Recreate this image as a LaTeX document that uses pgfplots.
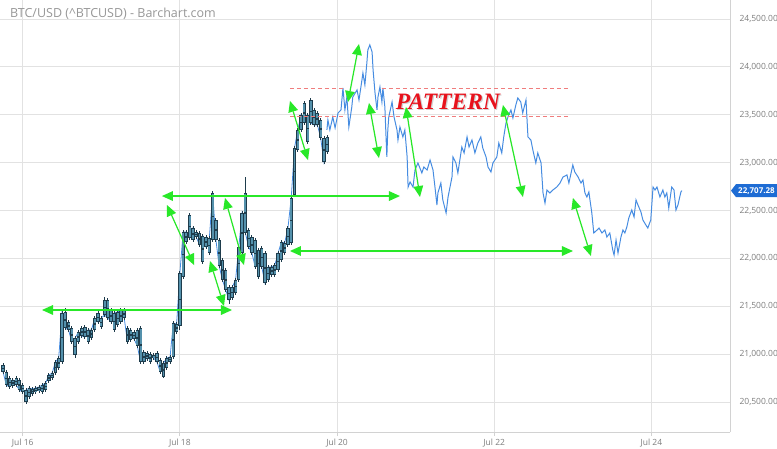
\documentclass[border=0pt]{standalone}
\usepackage{pgfplots}
\pgfplotsset{compat=1.18}
\usepackage{pgfplotstable}
\usepackage{fontspec}
\setmainfont{Open Sans}
\newfontfamily\patfont{Liberation Serif}
\usetikzlibrary{arrows.meta}
\definecolor{candlefill}{RGB}{84,145,172}
\definecolor{candleedge}{RGB}{30,60,76}
\definecolor{linecol}{RGB}{70,140,225}
\definecolor{gridcol}{RGB}{226,226,226}
\definecolor{axcol}{RGB}{210,210,210}
\definecolor{labcol}{RGB}{125,125,125}
\definecolor{titlecol}{RGB}{150,150,150}
\definecolor{arrgreen}{RGB}{40,232,40}
\definecolor{dashred}{RGB}{240,125,125}
\definecolor{patred}{RGB}{232,18,28}
\definecolor{tagblue}{RGB}{30,108,212}
\tikzset{
  garrow/.style={draw=arrgreen, fill=arrgreen, line width=1.2pt,
    {Triangle[length=11pt,width=10pt,line width=0pt]}-{Triangle[length=11pt,width=10pt,line width=0pt]}},
  gshadow/.style={draw=none, fill=black!40, opacity=0.18, line width=0.1pt, xshift=1pt, yshift=-1.3pt,
    {Triangle[length=11pt,width=10pt,fill=black!40]}-{Triangle[length=11pt,width=10pt,fill=black!40]}},
  rdash/.style={draw=dashred, line width=0.9pt, dash pattern=on 4pt off 3pt}
}
\newcommand{\garr}[2]{\draw[gshadow] #1 -- #2; \draw[garrow] #1 -- #2;}

\pgfplotstableread{
hr o h l c
-6 20886 20907 20792 20813
-5 20813 20834 20657 20678
-4 20751 20772 20636 20657
-3 20667 20751 20646 20730
-2 20751 20772 20657 20678
-1 20730 20751 20604 20625
0 20678 20698 20584 20604
1 20500 20646 20479 20625
2 20552 20667 20531 20646
3 20584 20657 20563 20636
4 20604 20667 20584 20646
5 20615 20678 20594 20657
6 20604 20698 20584 20678
7 20625 20719 20604 20698
8 20719 20803 20698 20782
9 20751 20824 20730 20803
10 20803 20939 20782 20918
11 20855 20980 20834 20960
12 20918 21461 20897 21430
13 21440 21482 21252 21273
14 21336 21357 21231 21252
15 21273 21294 21106 21127
16 20991 21189 20960 21168
17 21127 21252 21106 21231
18 21273 21294 21169 21190
19 21283 21304 21158 21179
20 21127 21273 21106 21252
21 21168 21273 21148 21252
22 21252 21398 21231 21377
23 21430 21451 21315 21336
24 21283 21398 21262 21377
25 21565 21597 21388 21409
26 21565 21586 21357 21377
27 21461 21482 21315 21336
28 21252 21451 21231 21430
29 21304 21461 21283 21440
30 21336 21482 21315 21461
31 21461 21482 21357 21377
32 21273 21294 21106 21127
33 21148 21273 21127 21252
34 21231 21252 21137 21158
35 21252 21273 21064 21085
36 21273 21294 20897 20918
37 20918 21043 20897 21022
38 21012 21033 20928 20949
39 20918 21022 20897 21001
40 20991 21012 20939 20960
41 21012 21033 20897 20918
42 20939 20960 20792 20813
43 20761 20928 20751 20907
44 20855 20980 20834 20960
45 20918 20991 20897 20970
46 20970 21346 20949 21325
47 21231 21336 21210 21315
48 21294 21868 21252 21847
49 21806 22296 21785 22275
50 22171 22296 22150 22275
51 22453 22474 22192 22213
52 22192 22338 22171 22317
53 22275 22296 22202 22223
54 22265 22286 22119 22140
55 21962 22255 21941 22234
56 22223 22244 22098 22119
57 22056 22234 22035 22213
58 22192 22704 22171 22683
59 22401 22422 22171 22192
60 22192 22213 21899 21920
61 21983 22004 21753 21774
62 21879 21900 21649 21670
63 21701 21722 21524 21565
64 21586 21722 21565 21701
65 21638 21795 21617 21774
66 21774 22140 21753 22119
67 22056 22495 22035 22474
68 22683 22850 22244 22265
69 22296 22317 22098 22119
70 22223 22244 22035 22056
71 22192 22213 21889 21910
72 21806 22108 21785 22087
73 22108 22129 21889 21910
74 22056 22077 21722 21743
75 21774 21931 21753 21910
76 21826 21931 21805 21910
77 21826 21952 21805 21931
78 21879 22077 21858 22056
79 21983 22192 21962 22171
80 22056 22182 22035 22161
81 22140 22338 22119 22317
82 22161 22652 22140 22631
83 22662 23174 22641 23153
84 23132 23362 23111 23341
85 23341 23518 23320 23497
86 23623 23644 23393 23414
87 23215 23518 23194 23497
88 23654 23675 23393 23414
89 23550 23571 23372 23393
90 23518 23539 23372 23393
91 23445 23466 23236 23257
92 23257 23278 22986 23007
93 23111 23289 23090 23268
}\candles

\pgfplotstableread{
hr p
92.9 23341
93.2 23445
93.8 23341
94.7 23477
95.4 23362
96.3 23518
97.2 23550
97.8 23779
98.4 23550
99.0 23685
99.6 23372
100.5 23581
100.8 23685
102.1 23759
102.7 23654
103.6 23863
103.9 23936
104.5 23811
105.1 24041
105.4 24176
106.0 24229
106.7 24155
107.0 23967
107.6 23727
108.2 23550
108.5 23685
109.1 23790
109.7 23633
110.0 23779
110.6 23581
111.2 23059
111.5 23341
111.8 23477
112.8 23633
113.4 23477
114.3 23341
114.6 23236
115.2 23372
116.1 23268
116.7 23341
117.4 23059
117.7 22745
118.3 22798
119.2 22745
119.8 22923
120.7 22996
121.9 22892
122.5 22954
123.5 22923
124.4 23027
125.3 22923
125.9 22745
126.5 22557
126.8 22683
127.7 22787
128.3 22610
129.3 22474
129.9 22641
131.1 22850
131.4 23059
132.3 22996
132.9 22892
134.1 23163
134.8 23101
135.7 23268
136.3 23163
137.2 23236
138.1 23101
139.0 23205
139.9 23268
140.5 23153
141.5 23059
142.1 22954
143.0 22902
143.6 22996
144.8 23059
145.4 23205
146.3 23101
146.9 23268
147.6 23414
148.2 23477
149.1 23550
149.7 23466
150.6 23602
151.2 23675
152.1 23633
152.7 23518
153.7 23654
154.3 23268
155.2 23236
155.8 23132
156.7 22996
157.3 23101
158.3 22996
158.9 22683
159.5 22578
160.1 22714
161.0 22683
161.9 22714
163.1 22745
164.1 22787
165.0 22850
166.2 22871
166.8 22787
168.0 22975
168.6 22902
169.6 22850
170.5 22787
171.1 22819
171.7 22683
172.3 22641
172.9 22693
173.8 22474
174.4 22265
175.4 22296
176.0 22317
176.9 22265
177.8 22296
178.4 22223
179.3 22265
180.2 22087
180.6 22035
181.2 22192
181.8 22056
182.7 22223
183.3 22296
183.9 22265
184.5 22328
185.1 22422
186.0 22505
186.7 22432
187.3 22610
187.9 22557
188.8 22484
189.4 22401
190.3 22349
190.9 22317
191.8 22401
192.5 22745
193.1 22714
193.7 22745
194.6 22641
195.5 22714
196.1 22641
196.7 22683
197.3 22526
198.2 22745
198.9 22714
199.5 22505
200.1 22557
201.0 22693
201.3 22707.28
}\priceline

\begin{document}
\begin{tikzpicture}
\begin{axis}[
  at={(0,0)}, anchor=north west,
  scale only axis, width=730pt, height=432pt,
  xmin=15.711, xmax=25.0, ymin=20187, ymax=24698,
  axis x line*=bottom, axis y line*=right,
  axis line style={draw=axcol, line width=0.8pt},
  grid=major, grid style={draw=gridcol, line width=0.8pt},
  xtick={16,18,20,22,24},
  xticklabels={Jul 16,Jul 18,Jul 20,Jul 22,Jul 24},
  ytick={20500,21000,21500,22000,22500,23000,23500,24000,24500},
  scaled y ticks=false,
  /pgf/number format/assume math mode=true,
  yticklabel style={/pgf/number format/.cd, fixed, fixed zerofill, precision=2, 1000 sep={,}},
  ticklabel style={font=\fontsize{8.5}{10}\selectfont, text=labcol},
  xtick style={draw=axcol, line width=0.8pt},
  tick align=outside, major tick length=4pt,
  ytick style={draw=none},
  yticklabel shift=2pt,
  clip=false,
]
% close line beneath candles
\addplot[linecol, line width=0.8pt, mark=none, forget plot]
  table[x expr=16+\thisrow{hr}/24, y=c] {\candles};
% wicks
\addplot[draw=none, mark=none, forget plot,
  error bars/.cd, y dir=both, y explicit, error mark=none,
  error bar style={draw=candleedge, line width=0.9pt}]
  table[x expr=16+\thisrow{hr}/24, y expr=(\thisrow{h}+\thisrow{l})/2,
        y error expr=(\thisrow{h}-\thisrow{l})/2] {\candles};
% bodies outline
\addplot[draw=none, mark=none, forget plot,
  error bars/.cd, y dir=both, y explicit, error mark=none,
  error bar style={draw=candleedge, line width=3.3pt}]
  table[x expr=16+\thisrow{hr}/24, y expr=(\thisrow{o}+\thisrow{c})/2,
        y error expr=abs(\thisrow{c}-\thisrow{o})/2] {\candles};
% bodies fill
\addplot[draw=none, mark=none, forget plot,
  error bars/.cd, y dir=both, y explicit, error mark=none,
  error bar style={draw=candlefill, line width=1.9pt, shorten <=0.7pt, shorten >=0.7pt}]
  table[x expr=16+\thisrow{hr}/24, y expr=(\thisrow{o}+\thisrow{c})/2,
        y error expr=abs(\thisrow{c}-\thisrow{o})/2] {\candles};
% price line
\addplot[linecol, line width=1pt, mark=none]
  table[x expr=16+\thisrow{hr}/24, y=p] {\priceline};

% red dashed pattern lines
\draw[rdash] (axis cs:19.401,23779) -- (axis cs:20.078,23779);
\draw[rdash] (axis cs:20.570,23779) -- (axis cs:22.938,23779);
\draw[rdash] (axis cs:19.401,23487) -- (axis cs:20.078,23487);
\draw[rdash] (axis cs:20.570,23487) -- (axis cs:22.938,23487);

% green arrows
\garr{(axis cs:16.246,21461)}{(axis cs:18.663,21461)}
\garr{(axis cs:17.772,22651)}{(axis cs:20.800,22651)}
\garr{(axis cs:19.401,22077)}{(axis cs:23.001,22077)}
\garr{(axis cs:17.836,22557)}{(axis cs:18.180,21931)}
\garr{(axis cs:18.383,21973)}{(axis cs:18.561,21503)}
\garr{(axis cs:18.574,22631)}{(axis cs:18.815,21931)}
\garr{(axis cs:19.401,23644)}{(axis cs:19.630,23027)}
\garr{(axis cs:20.279,24239)}{(axis cs:20.139,23633)}
\garr{(axis cs:20.406,23623)}{(axis cs:20.533,23048)}
\garr{(axis cs:20.877,23581)}{(axis cs:21.055,22641)}
\garr{(axis cs:22.111,23602)}{(axis cs:22.365,22641)}
\garr{(axis cs:23.001,22631)}{(axis cs:23.230,22025)}

% PATTERN label
\node[text=black!40, opacity=0.45, font=\patfont\bfseries\itshape\fontsize{23.5}{24}\selectfont, xshift=1.2pt, yshift=-1.5pt]
  at (axis cs:21.411,23636) {PATTERN};
\node[text=patred, font=\patfont\bfseries\itshape\fontsize{23.5}{24}\selectfont]
  at (axis cs:21.411,23636) {PATTERN};

\coordinate (tag) at (axis cs:25.0,22707.28);
\end{axis}
\fill[tagblue] (tag) ++(1pt,0) -- ++(5pt,6.5pt) -- ++(41pt,0) -- ++(0,-13pt) -- ++(-41pt,0) -- cycle;
\node[text=white, font=\bfseries\fontsize{8}{9}\selectfont, anchor=center] at ([xshift=26.5pt]tag) {22,707.28};
\node[anchor=west, text=titlecol, font=\fontsize{12.5}{14}\selectfont, inner sep=0pt] at (10pt,-14pt) {BTC/USD (\textasciicircum BTCUSD) - Barchart.com};
\pgfresetboundingbox
\path[use as bounding box] (0,0) rectangle (777pt,-449pt);
\end{tikzpicture}
\end{document}
